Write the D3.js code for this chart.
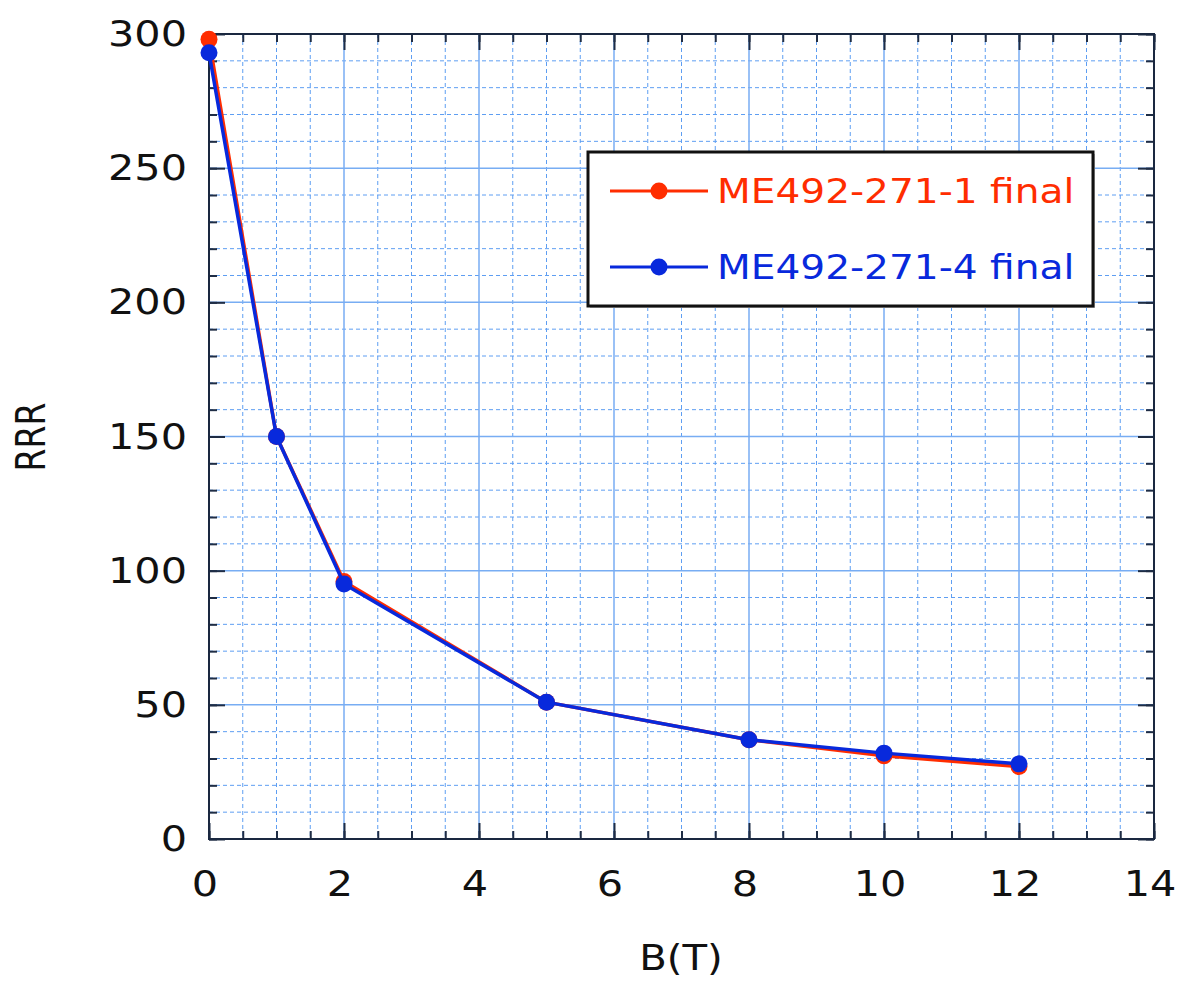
<!DOCTYPE html>
<html>
<head>
<meta charset="utf-8">
<script src="https://cdn.jsdelivr.net/npm/d3@7"></script>
<style>
  html, body { margin: 0; padding: 0; background: #fff; }
  svg { display: block; }
  text { font-family: "DejaVu Sans", Verdana, sans-serif; }
</style>
</head>
<body>
<svg id="chart" width="1185" height="984"></svg>
<script>
// Field values (tesla) and residual-resistance ratio for the two samples
const fieldT = [0, 1, 2, 5, 8, 10, 12];
const rrrSample1 = [298, 150, 96, 51, 37, 31, 27];
const rrrSample4 = [293, 150, 95, 51, 37, 32, 28];
const seriesNames = ["ME492-271-1 final", "ME492-271-4 final"];
const xTickValues = [0, 2, 4, 6, 8, 10, 12, 14];
const yTickValues = [0, 50, 100, 150, 200, 250, 300];

const colors = ["#ff2d00", "#0829dc"];
const stretch = 1.15; // wide lettering

const svg = d3.select("#chart");
const plotL = 209, plotR = 1154, plotT = 34, plotB = 839;

const x = d3.scaleLinear().domain([0, 14]).range([plotL, plotR]);
const y = d3.scaleLinear().domain([0, 300]).range([plotB, plotT]);

// Grid: dashed minor lines, solid major lines
const xMinor = d3.range(0, 14.001, 0.5).filter(v => v % 2 !== 0);
const yMinor = d3.range(0, 300.001, 10).filter(v => v % 50 !== 0);
const grid = svg.append("g");
grid.selectAll(".xm").data(xMinor).join("line")
  .attr("x1", d => x(d)).attr("x2", d => x(d)).attr("y1", plotT).attr("y2", plotB)
  .attr("stroke", "#5e9ef2").attr("stroke-width", 1).attr("stroke-dasharray", "4,3");
grid.selectAll(".ym").data(yMinor).join("line")
  .attr("x1", plotL).attr("x2", plotR).attr("y1", d => y(d)).attr("y2", d => y(d))
  .attr("stroke", "#5e9ef2").attr("stroke-width", 1).attr("stroke-dasharray", "4,3");
grid.selectAll(".xM").data(xTickValues.slice(1, -1)).join("line")
  .attr("x1", d => x(d)).attr("x2", d => x(d)).attr("y1", plotT).attr("y2", plotB)
  .attr("stroke", "#78adf3").attr("stroke-width", 1.5);
grid.selectAll(".yM").data(yTickValues.slice(1, -1)).join("line")
  .attr("x1", plotL).attr("x2", plotR).attr("y1", d => y(d)).attr("y2", d => y(d))
  .attr("stroke", "#78adf3").attr("stroke-width", 1.5);

// Inward ticks on all four sides
const tickColor = "#1f2d45";
function ticks(axisFn, scale, vals, len, transform) {
  const g = svg.append("g").attr("transform", transform)
    .call(axisFn(scale).tickValues(vals).tickSize(-len).tickFormat(""));
  g.select(".domain").remove();
  g.selectAll(".tick line").attr("stroke", tickColor).attr("stroke-width", 2);
}
const xMinorAll = d3.range(0, 14.001, 0.5);
const yMinorAll = d3.range(0, 300.001, 10);
ticks(d3.axisBottom, x, xMinorAll, 8, `translate(0,${plotB})`);
ticks(d3.axisBottom, x, xTickValues, 16, `translate(0,${plotB})`);
ticks(d3.axisTop, x, xMinorAll, 8, `translate(0,${plotT})`);
ticks(d3.axisTop, x, xTickValues, 16, `translate(0,${plotT})`);
ticks(d3.axisLeft, y, yMinorAll, 8, `translate(${plotL},0)`);
ticks(d3.axisLeft, y, yTickValues, 16, `translate(${plotL},0)`);
ticks(d3.axisRight, y, yMinorAll, 8, `translate(${plotR},0)`);
ticks(d3.axisRight, y, yTickValues, 16, `translate(${plotR},0)`);

// Frame
svg.append("rect").attr("x", plotL).attr("y", plotT)
  .attr("width", plotR - plotL).attr("height", plotB - plotT)
  .attr("fill", "none").attr("stroke", "#1a2840").attr("stroke-width", 2);

// Tick labels
svg.append("g").selectAll("text").data(xTickValues).join("text")
  .attr("transform", d => `translate(${x(d) - 4},${896}) scale(${stretch},1)`)
  .attr("text-anchor", "middle").attr("font-size", 36).attr("fill", "#111")
  .text(d => d);
svg.append("g").selectAll("text").data(yTickValues).join("text")
  .attr("transform", d => `translate(${187},${y(d) + 12}) scale(${stretch},1)`)
  .attr("text-anchor", "end").attr("font-size", 36).attr("fill", "#111")
  .text(d => d);

// Axis titles
svg.append("text")
  .attr("transform", `translate(681,970) scale(${stretch},1)`)
  .attr("text-anchor", "middle").attr("font-size", 35).attr("fill", "#111")
  .text("B(T)");
svg.append("text")
  .attr("transform", `translate(45,437) rotate(-90) scale(1,1.25)`)
  .attr("text-anchor", "middle").attr("font-size", 33).attr("fill", "#111")
  .text("RRR");

// Series
const line = d3.line().x(d => x(d[0])).y(d => y(d[1]));
[rrrSample1, rrrSample4].forEach((vals, i) => {
  const pts = fieldT.map((f, k) => [f, vals[k]]);
  const g = svg.append("g");
  g.append("path").attr("d", line(pts)).attr("fill", "none")
    .attr("stroke", colors[i]).attr("stroke-width", 3.5).attr("stroke-linejoin", "round");
  g.selectAll("circle").data(pts).join("circle")
    .attr("cx", d => x(d[0])).attr("cy", d => y(d[1])).attr("r", 8.5)
    .attr("fill", colors[i]);
});

// Legend
const lg = svg.append("g");
lg.append("rect").attr("x", 590).attr("y", 154).attr("width", 505).attr("height", 154)
  .attr("fill", "#bbb");
lg.append("rect").attr("x", 588).attr("y", 152).attr("width", 505).attr("height", 154)
  .attr("fill", "#fff").attr("stroke", "#111").attr("stroke-width", 3);
seriesNames.forEach((name, i) => {
  const ry = 191 + i * 76;
  lg.append("line").attr("x1", 610).attr("x2", 708).attr("y1", ry).attr("y2", ry)
    .attr("stroke", colors[i]).attr("stroke-width", 3);
  lg.append("circle").attr("cx", 659).attr("cy", ry).attr("r", 8.5).attr("fill", colors[i]);
  lg.append("text")
    .attr("transform", `translate(717,${ry + 12}) scale(${stretch},1)`)
    .attr("font-size", 34).attr("fill", colors[i])
    .text(name);
});
</script>
</body>
</html>
